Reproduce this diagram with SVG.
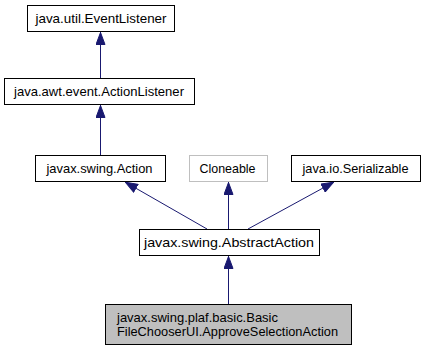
<svg xmlns="http://www.w3.org/2000/svg" width="426" height="351" viewBox="0 0 426 351">
  <style>
    .box rect { fill: #ffffff; stroke: #000000; stroke-width: 1; }
    .box text { font-family: "Liberation Sans", Arial, sans-serif; font-size: 13.4px; fill: #000000; text-anchor: middle; }
    #n_cloneable rect { stroke: #bfbfbf; }
    #n_approve rect { fill: #bfbfbf; }
    #n_approve text { text-anchor: start; font-size: 12.2px; }
    .edge { stroke: #191970; stroke-width: 1; fill: none; }
  </style>
  <defs>
    <marker id="inherit" viewBox="0 0 13 10" refX="13" refY="5" markerWidth="13" markerHeight="10" markerUnits="userSpaceOnUse" orient="auto">
      <path d="M0.5,0.5 L12.5,5 L0.5,9.5 Z" fill="#191970" stroke="#191970" stroke-width="1"/>
    </marker>
  </defs>

  <!-- inheritance connectors -->
  <g id="edges">
    <line class="edge" x1="100.5" y1="78" x2="100.5" y2="32" marker-end="url(#inherit)"/>
    <line class="edge" x1="100.5" y1="155" x2="100.5" y2="105" marker-end="url(#inherit)"/>
    <line class="edge" x1="207" y1="229" x2="125" y2="182" marker-end="url(#inherit)"/>
    <line class="edge" x1="228.5" y1="229" x2="228.5" y2="182" marker-end="url(#inherit)"/>
    <line class="edge" x1="248" y1="229" x2="334" y2="182" marker-end="url(#inherit)"/>
    <line class="edge" x1="228.5" y1="304" x2="228.5" y2="256" marker-end="url(#inherit)"/>
  </g>

  <g id="n_eventlistener" class="box">
    <rect x="27.5" y="5.5" width="147" height="26"/>
    <text x="101" y="23" textLength="131" lengthAdjust="spacingAndGlyphs">java.util.EventListener</text>
  </g>
  <g id="n_actionlistener" class="box">
    <rect x="4.5" y="78.5" width="190" height="26"/>
    <text x="99" y="96" textLength="170" lengthAdjust="spacingAndGlyphs">java.awt.event.ActionListener</text>
  </g>
  <g id="n_action" class="box">
    <rect x="35.5" y="155.5" width="130" height="26"/>
    <text x="99.5" y="173" textLength="106" lengthAdjust="spacingAndGlyphs">javax.swing.Action</text>
  </g>
  <g id="n_cloneable" class="box">
    <rect x="189.5" y="155.5" width="78" height="26"/>
    <text x="227.5" y="173" textLength="56" lengthAdjust="spacingAndGlyphs">Cloneable</text>
  </g>
  <g id="n_serializable" class="box">
    <rect x="291.5" y="155.5" width="129" height="26"/>
    <text x="355.5" y="173" textLength="106" lengthAdjust="spacingAndGlyphs">java.io.Serializable</text>
  </g>
  <g id="n_abstractaction" class="box">
    <rect x="139.5" y="229.5" width="180" height="26"/>
    <text x="229" y="247" textLength="170" lengthAdjust="spacingAndGlyphs">javax.swing.AbstractAction</text>
  </g>
  <g id="n_approve" class="box">
    <rect x="105.5" y="304.5" width="246" height="40"/>
    <text x="117" y="322" textLength="161" lengthAdjust="spacingAndGlyphs">javax.swing.plaf.basic.Basic</text>
    <text x="117" y="336" textLength="221" lengthAdjust="spacingAndGlyphs">FileChooserUI.ApproveSelectionAction</text>
  </g>
</svg>
